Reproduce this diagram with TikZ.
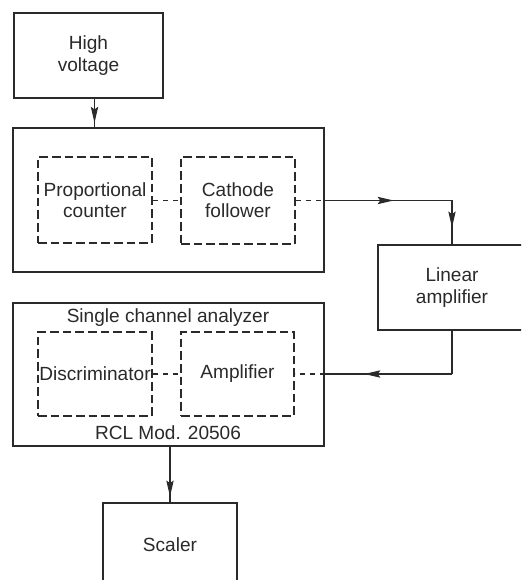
\documentclass[tikz,border=0pt]{standalone}
\usepackage{fontspec}
\setmainfont{Liberation Sans}
\usetikzlibrary{arrows.meta,decorations.markings}
\definecolor{ink}{HTML}{2A2A2A}
\tikzset{
  box/.style={draw=ink, line width=1.5pt, rectangle, inner sep=0pt, align=center, text=ink,
    font=\fontsize{14.3}{16}\selectfont},
  dbox/.style={box, dash pattern=on 6.5pt off 3pt},
  wire/.style={draw=ink, line width=0.8pt},
  dwire/.style={wire, dash pattern=on 4pt off 3.5pt},
  lbl/.style={text=ink, font=\fontsize{14.3}{16}\selectfont, inner sep=0pt},
  tipat/.style={postaction={decorate}, decoration={markings,
    mark=at position #1 with {\arrow{Stealth[length=12pt,width=5.5pt,inset=2pt]}}}}
}
\begin{document}
\begin{tikzpicture}[x=0.75pt,y=-0.75pt]
\useasboundingbox (0,0) rectangle (521,580);
\fill[white] (0,0) rectangle (521,580);
\clip (0,0) rectangle (521,580);
% boxes
\node[box, minimum width=111.75pt, minimum height=63.75pt] (hv) at (88.5,55.5) {High\\voltage};
\node[box, minimum width=233.25pt, minimum height=108pt] (up) at (168.5,200) {};
\node[dbox, minimum width=85.5pt, minimum height=64.5pt] (pc) at (95,200) {Proportional\\counter};
\node[dbox, minimum width=85.5pt, minimum height=65.25pt] (cf) at (238,200.5) {Cathode\\follower};
\node[box, minimum width=111pt, minimum height=63.75pt] (lin) at (452,287.5) {Linear\\amplifier};
\node[box, minimum width=233.25pt, minimum height=107.25pt] (low) at (168.5,374.5) {};
\node[dbox, minimum width=85.5pt, minimum height=63pt] (disc) at (95,374) {Discriminator};
\node[dbox, minimum width=84.75pt, minimum height=63pt] (amp) at (237.5,374) {Amplifier};
\node[lbl] (sca) at (168,318) {Single channel analyzer};
\node[lbl] (rcl) at (168,433) {RCL Mod. 20506};
\node[box, minimum width=100.5pt, minimum height=63pt] (sc) at (170,545) {Scaler};
% connectors
\coordinate (c1) at (cf.east -| up.east);
\coordinate (c2) at (c1 -| lin.north);
\coordinate (c3) at (amp.east -| up.east);
\coordinate (c4) at (c3 -| lin.south);
\draw[wire, tipat=0.85] ([xshift=4.5pt]hv.south) -- ([xshift=4.5pt]hv.south |- up.north);
\draw[dwire] (pc.east |- cf.east) -- (cf.west);
\draw[dwire] (cf.east) -- (c1);
\draw[wire, tipat=0.54] (c1) -- (c2);
\draw[wire, tipat=0.62] (c2) -- (lin.north);
\draw[wire] (lin.south) -- (c4);
\draw[wire, tipat=0.69] (c4) -- (c3);
\draw[dwire] (c3) -- (amp.east);
\draw[dwire] (disc.east) -- (amp.west);
\draw[wire, tipat=0.9] (sc.north |- low.south) -- (sc.north);
\end{tikzpicture}
\end{document}
